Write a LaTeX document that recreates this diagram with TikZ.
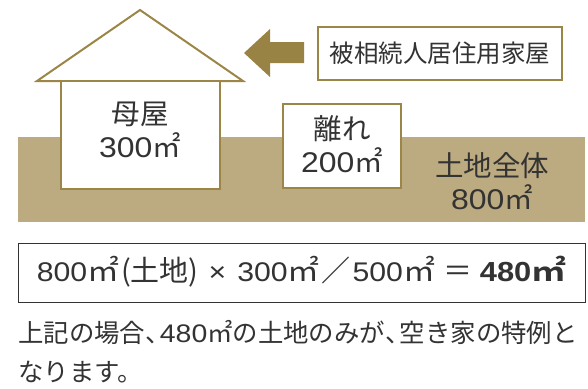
\documentclass[tikz,border=0pt]{standalone}
\usepackage{fontspec}
\setmainfont{Noto Sans CJK JP}[BoldFont={Noto Sans CJK JP Bold}]
\newfontfamily\numfont{Liberation Sans}[FakeStretch=1.12]
\newfontfamily\fnumfont{Liberation Sans}[FakeStretch=1.12,Scale=0.93]
\newfontfamily\fnumbold{Liberation Sans Bold}[FakeStretch=1.12,Scale=0.95]
\newcommand\nm[1]{{\numfont #1}}
\newcommand\fnm[1]{{\fnumfont #1}}
\newcommand\fsq{\scalebox{1.1}[1]{㎡}}
\newcommand\tou{{\addfontfeature{RawFeature=+halt}、}\hspace{2pt}}
\definecolor{land}{HTML}{BCAA80}
\definecolor{gold}{HTML}{9C8647}
\definecolor{arrowgold}{HTML}{998344}
\definecolor{ink}{HTML}{333333}
\begin{document}
\begin{tikzpicture}[x=1pt,y=-1pt,
  txt/.style={text=ink, font=\fontsize{28.5}{33}\selectfont, align=center, inner sep=0pt},
  small/.style={text=ink, font=\fontsize{24.5}{30}\selectfont, inner sep=0pt},
  note/.style={text=ink, font=\fontsize{25.4}{30}\selectfont, inner sep=0pt},
  outline/.style={draw=gold, line width=2pt, fill=white}]
\useasboundingbox (0,0) rectangle (588,388);
% land
\fill[land] (18,137) rectangle (585,222);
% main house
\draw[outline, line join=miter] (37,81) -- (140,10) -- (243,81) -- cycle;
\node[outline, minimum width=159pt, minimum height=108pt, inner sep=0pt] (main) at (140.5,135) {};
\node[txt] (maintxt) at (140,130) {母屋\\\nm{300}㎡};
% annex
\node[outline, minimum width=118pt, minimum height=84pt, inner sep=0pt] (annex) at (342,146) {};
\node[txt] (annextxt) at (342,144) {離れ\\\nm{200}㎡};
% land label
\node[txt] (landtxt) at (492,181) {土地全体\\\nm{800}㎡};
% label box
\node[draw=gold, line width=1.2pt, fill=white, minimum width=244pt, minimum height=53pt, inner sep=0pt] (label) at (440,53.5) {};
\node[small] (labeltxt) at (440,53) {被相続人居住用家屋};
% arrow
\fill[arrowgold] (244,53) -- (270,29) -- (270,42) -- (304,42) -- (304,63) -- (270,63) -- (270,77) -- cycle;
% formula
\node[draw=ink, line width=0.9pt, minimum width=567pt, minimum height=59pt, inner sep=0pt] (formula) at (301.5,272.5) {};
\node[text=ink, font=\fontsize{29}{32}\selectfont, inner sep=0pt] (formulatxt) at (301.5,272) {\fnm{800}\fsq\hspace{2pt}(土地)\hspace{10pt}\fnm{×}\hspace{11pt}\fnm{300}\fsq\hspace{2pt}／\hspace{2pt}\fnm{500}\fsq\hspace{9pt}＝\hspace{7pt}{\fnumbold 480}\scalebox{1.2}[1]{\bfseries ㎡}};
% note
\node[note, anchor=west] (note1) at (18,332) {上記の場合\tou\nm{480}㎡の土地のみが\tou 空き家の特例と};
\node[note, anchor=west] (note2) at (18,372) {なります。};
\end{tikzpicture}
\end{document}
